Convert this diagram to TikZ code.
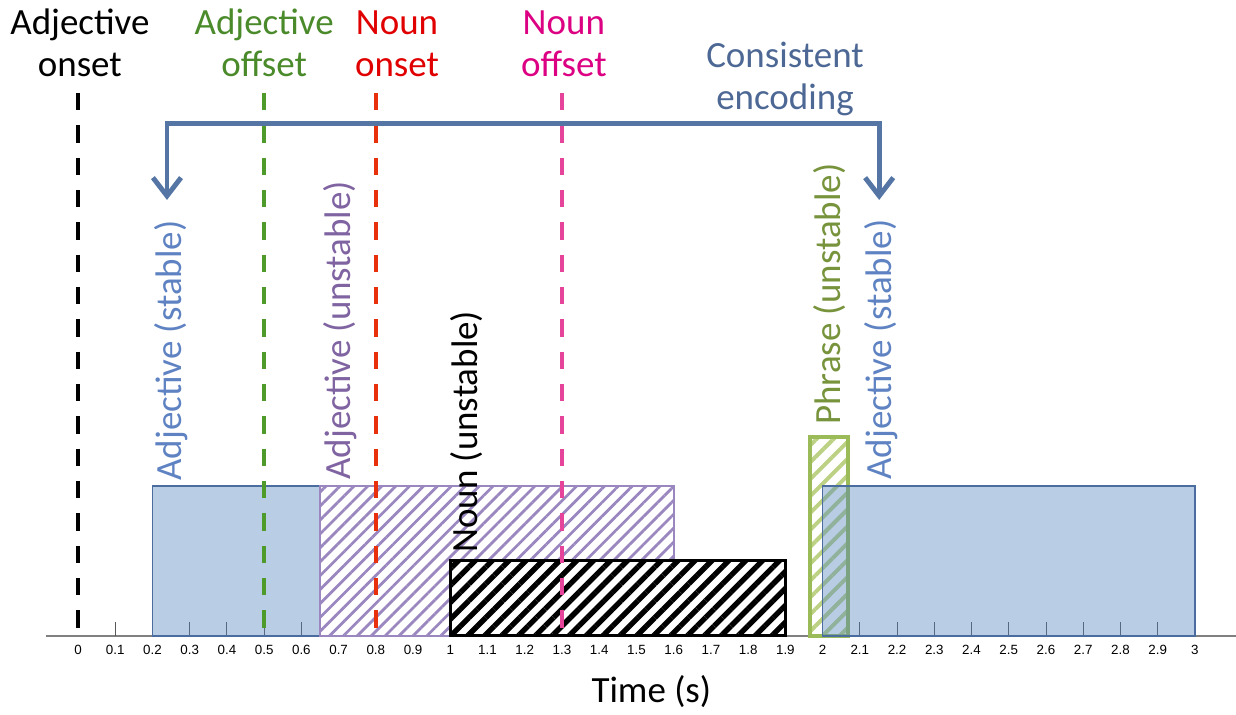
\documentclass[tikz,border=0pt]{standalone}
\usepackage{fontspec}
\setmainfont{Carlito}
\newfontfamily\tickfont{Liberation Sans}
\usepackage{tikz}
\usetikzlibrary{positioning,arrows.meta,patterns.meta}

\definecolor{adjblue}{HTML}{4F81BD}
\definecolor{adjedge}{HTML}{4A6C9E}
\definecolor{adjtext}{HTML}{5F83C2}
\definecolor{encblue}{HTML}{5575A5}
\definecolor{enctext}{HTML}{4D6894}
\definecolor{unpurple}{HTML}{9A87C0}
\definecolor{untext}{HTML}{8064A2}
\definecolor{phrgreen}{HTML}{9BBB59}
\definecolor{phrhatch}{HTML}{BCD183}
\definecolor{phrtext}{HTML}{77933C}
\definecolor{offgreen}{HTML}{4E9A2A}
\definecolor{offtext}{HTML}{4A8A2A}
\definecolor{onred}{HTML}{E8300C}
\definecolor{ontext}{HTML}{E00000}
\definecolor{offpink}{HTML}{E6449A}
\definecolor{offptext}{HTML}{DC0082}

\begin{document}
\begin{tikzpicture}[x=9.3075cm, y=0.025cm,
    lbl/.style={font=\fontsize{26.3}{29.9}\selectfont, align=center, anchor=base, inner sep=0pt},
    vlbl/.style={font=\fontsize{26.3}{29.9}\selectfont, rotate=90, anchor=base west, inner sep=0pt},
    ticklbl/.style={font=\tickfont\fontsize{9.5}{11}\selectfont, inner sep=0pt},
    marker/.style={line width=2.8pt, dash pattern=on 12.4pt off 10.6pt},
    tickline/.style={draw=black!65, line width=0.7pt},
    stablebox/.style={fill=adjblue, fill opacity=0.4, draw=adjedge, line width=1pt},
    hatchbox/.style={preaction={fill=white}, pattern color=#1, draw=#1},
    encarrow/.style={encblue, line width=3.5pt,
        {Straight Barb[length=13pt,width=20pt]}-{Straight Barb[length=13pt,width=20pt]}}]
    \useasboundingbox (-0.2095,-79) rectangle (3.1104,636);

    % time axis
    \draw[black!50, line width=1pt] (-0.086,0) -- (3.1104,0);
    \foreach \i in {1,...,30} {
        \draw[tickline] (\i/10,0) -- (\i/10,14);
    }
    \foreach \i in {0,...,30} {
        \pgfmathtruncatemacro\ip{\i/10}
        \pgfmathtruncatemacro\fr{\i-10*\ip}
        \node[ticklbl] (tk\i) at (\i/10,-14) {\ifnum\fr=0 \ip\else\ip.\fr\fi};
    }
    \node[lbl] (timelbl) at (1.540,-67) {Time (s)};

    % decoding windows
    \draw[stablebox] (0.2,0) rectangle (0.65,150);
    \draw[hatchbox=unpurple, line width=1.2pt,
        pattern={Lines[angle=45,distance=7pt,line width=2pt]}] (0.65,0) rectangle (1.6,150);
    \draw[hatchbox=black, line width=2pt,
        pattern={Lines[angle=45,distance=8.5pt,line width=3.8pt]}] (1,0) rectangle (1.9,75);
    \draw[preaction={fill=white}, draw=phrgreen, pattern color=phrhatch, line width=3pt,
        pattern={Lines[angle=45,distance=8.5pt,line width=2.8pt]}] (1.966,0) rectangle (2.068,199);
    \draw[stablebox] (2,0) rectangle (3,150);

    % word onsets and offsets
    \draw[marker, black] (0,543) -- (0,3);
    \draw[marker, offgreen] (0.5,543) -- (0.5,3);
    \draw[marker, onred] (0.8,543) -- (0.8,3);
    \draw[marker, offpink] (1.3,543) -- (1.3,3);

    \node[lbl] (adjon) at (0.005,559) {Adjective\\onset};
    \node[lbl, text=offtext] (adjoff) at (0.5,559) {Adjective\\offset};
    \node[lbl, text=ontext] (nounon) at (0.857,559) {Noun\\onset};
    \node[lbl, text=offptext] (nounoff) at (1.305,559) {Noun\\offset};

    % window labels
    \node[vlbl, text=adjtext] (adjL) at (0.279,155) {Adjective (stable)};
    \node[vlbl, text=untext] (adjU) at (0.731,156) {Adjective (unstable)};
    \node[vlbl] (nounU) at (1.074,83) {Noun (unstable)};
    \node[vlbl, text=phrtext] (phrU) at (2.049,211) {Phrase (unstable)};
    \node[vlbl, text=adjtext] (adjR) at (2.184,156) {Adjective (stable)};

    % consistent encoding bracket
    \node[lbl, text=enctext] (cons) at (1.899,526) {Consistent\\encoding};
    \coordinate (encL) at (0.239,436);
    \coordinate (encTop) at (1.2,512);
    \coordinate (encR) at (2.152,436);
    \draw[encarrow] (encL) |- (encTop) -| (encR);
\end{tikzpicture}
\end{document}
